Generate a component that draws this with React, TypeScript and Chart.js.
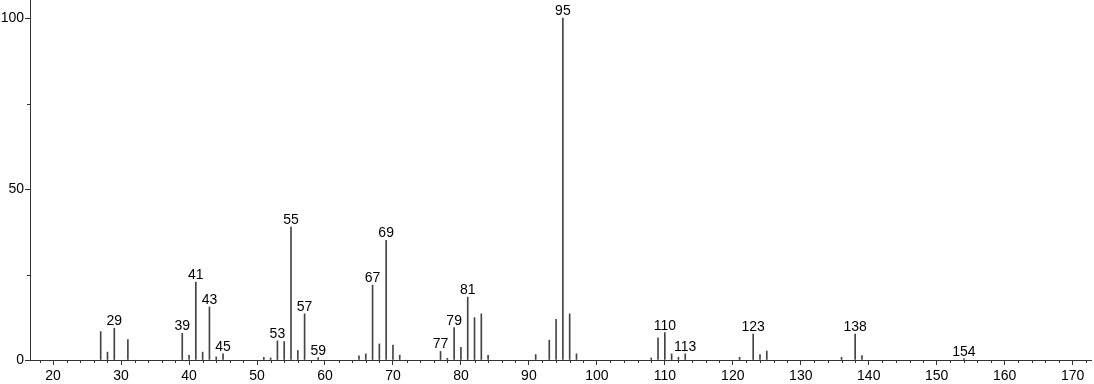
import React, { useEffect, useRef } from "react";
import { Chart, registerables } from "chart.js";

Chart.register(...registerables);

// m/z values of the peaks
const mzValues: number[] = [
  27, 28, 29, 31, 39, 40, 41, 42, 43, 44, 45, 51, 52, 53, 54, 55, 56, 57, 59,
  65, 66, 67, 68, 69, 70, 71, 77, 78, 79, 80, 81, 82, 83, 84, 91, 93, 94, 95,
  96, 97, 108, 109, 110, 111, 112, 113, 121, 123, 124, 125, 136, 138, 139, 154,
];

// relative intensities (%)
const intensities: number[] = [
  8.3, 2.3, 9.3, 6.0, 7.8, 1.4, 22.8, 2.3, 15.5, 0.9, 1.8, 0.8, 0.6, 5.6, 5.4,
  38.9, 2.8, 13.5, 0.7, 1.2, 1.8, 21.9, 4.7, 35.0, 4.4, 1.4, 2.5, 0.5, 9.5,
  3.7, 18.4, 12.4, 13.5, 1.4, 1.6, 5.8, 11.9, 100, 13.5, 1.8, 0.6, 6.5, 8.0,
  1.8, 0.8, 1.8, 0.8, 7.6, 1.6, 2.6, 0.8, 7.6, 1.3, 0.4,
];

// peaks that carry a label
const labelledPeaks: number[] = [
  29, 39, 41, 43, 45, 53, 55, 57, 59, 67, 69, 77, 79, 81, 95, 110, 113, 123,
  138, 154,
];

const xMajorTicks: number[] = [20, 30, 40, 50, 60, 70, 80, 90, 100, 110, 120, 130, 140, 150, 160, 170];
const yMajorTicks: number[] = [0, 50, 100];
const yMinorTicks: number[] = [25, 75];

const AXIS_COLOR = "#333333";
const BAR_COLOR = "#444444";
const FONT_FAMILY = '"Liberation Sans", Arial, Helvetica, sans-serif';

const msPlugin = {
  id: "msAnnotations",
  afterDraw(chart: any) {
    const { ctx } = chart;
    const x = chart.scales.x;
    const y = chart.scales.y;
    ctx.save();
    ctx.strokeStyle = AXIS_COLOR;
    ctx.lineWidth = 1;
    ctx.beginPath();
    // minor x ticks every 2 units
    for (let v = 18; v <= 172; v += 2) {
      if (xMajorTicks.includes(v)) continue;
      const px = Math.round(x.getPixelForValue(v)) + 0.5;
      ctx.moveTo(px, y.bottom);
      ctx.lineTo(px, y.bottom + 3);
    }
    // minor y ticks
    for (const v of yMinorTicks) {
      const py = Math.round(y.getPixelForValue(v)) + 0.5;
      ctx.moveTo(x.left - 3, py);
      ctx.lineTo(x.left, py);
    }
    ctx.stroke();

    // peak labels
    ctx.fillStyle = "#000";
    ctx.font = `14px ${FONT_FAMILY}`;
    ctx.textAlign = "center";
    ctx.textBaseline = "alphabetic";
    for (const m of labelledPeaks) {
      const i = mzValues.indexOf(m);
      if (i < 0) continue;
      const px = x.getPixelForValue(m);
      const py = y.getPixelForValue(intensities[i]);
      ctx.fillText(String(m), px, py - 3);
    }
    ctx.restore();
  },
};

export default function App() {
  const canvasRef = useRef<HTMLCanvasElement | null>(null);

  useEffect(() => {
    if (!canvasRef.current) return;
    const chart = new Chart(canvasRef.current, {
      type: "bar",
      data: {
        datasets: [
          {
            data: mzValues.map((m, i) => ({ x: m, y: intensities[i] })),
            backgroundColor: BAR_COLOR,
            borderWidth: 0,
            barThickness: 1,
            grouped: false,
          } as any,
        ],
      },
      options: {
        animation: false,
        responsive: false,
        maintainAspectRatio: false,
        layout: { padding: { top: 0, right: 3, left: 0, bottom: 0 } },
        plugins: {
          legend: { display: false },
          tooltip: { enabled: false },
        },
        scales: {
          x: {
            type: "linear",
            min: 16.6,
            max: 172.7,
            offset: false,
            afterFit: (scale: any) => {
              scale.height = 24;
              scale.paddingLeft = 0;
              scale.paddingRight = 0;
            },
            afterBuildTicks: (scale: any) => {
              scale.ticks = xMajorTicks.map((v) => ({ value: v }));
            },
            grid: {
              offset: false,
              drawOnChartArea: false,
              drawTicks: true,
              tickLength: 5,
              color: AXIS_COLOR,
            },
            border: { display: true, color: AXIS_COLOR },
            ticks: {
              includeBounds: false,
              autoSkip: false,
              maxRotation: 0,
              padding: 3,
              color: "#000",
              font: { size: 14, family: FONT_FAMILY },
            },
          },
          y: {
            type: "linear",
            min: 0,
            max: 105.3,
            afterFit: (scale: any) => {
              scale.width = 30;
              scale.paddingTop = 0;
              scale.paddingBottom = 0;
            },
            afterBuildTicks: (scale: any) => {
              scale.ticks = yMajorTicks.map((v) => ({ value: v }));
            },
            grid: {
              drawOnChartArea: false,
              drawTicks: true,
              tickLength: 5,
              color: AXIS_COLOR,
            },
            border: { display: true, color: AXIS_COLOR },
            ticks: {
              includeBounds: false,
              padding: 1,
              color: "#000",
              font: { size: 14, family: FONT_FAMILY },
            },
          },
        },
      } as any,
      plugins: [msPlugin],
    });
    return () => chart.destroy();
  }, []);

  return (
    <div style={{ position: "absolute", left: 0, top: 0, width: 1094, height: 384 }}>
      <canvas ref={canvasRef} width={1094} height={384} style={{ display: "block" }} />
    </div>
  );
}
